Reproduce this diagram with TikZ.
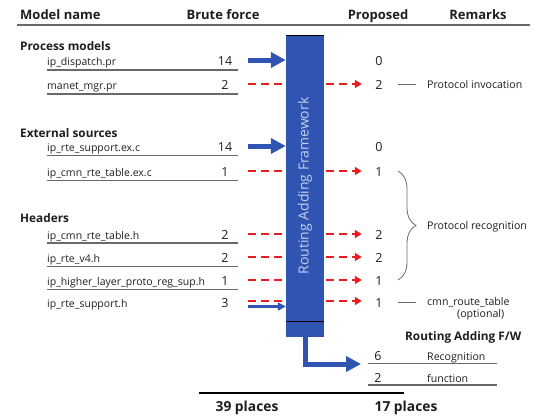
\documentclass[tikz,border=0pt]{standalone}
\usepackage{fontspec}
\setmainfont{Open Sans}
\usepackage{xcolor}
\definecolor{fwblue}{RGB}{47,84,178}
\definecolor{fwred}{RGB}{232,30,30}
\definecolor{lgrey}{RGB}{105,105,105}
\definecolor{fwtext}{RGB}{196,206,234}
\definecolor{ink}{RGB}{30,30,30}
\usetikzlibrary{arrows.meta}
\usetikzlibrary{backgrounds}
\usetikzlibrary{decorations.pathreplacing}
\tikzset{
  colhead/.style={anchor=base, inner sep=0, text=ink, font=\bfseries\fontsize{13}{15}\selectfont},
  total/.style={anchor=base, inner sep=0, text=ink, font=\bfseries\fontsize{13.8}{16}\selectfont},
  group/.style={anchor=base west, inner sep=0, text=ink, font=\bfseries\fontsize{11.8}{14}\selectfont},
  fname/.style={anchor=base west, inner sep=0, text=ink, font=\fontsize{10.5}{12}\selectfont},
  num/.style={anchor=base, inner sep=0, text height=10pt, text depth=0pt, minimum width=14pt, text=ink, font=\fontsize{12.5}{14}\selectfont},
  remark/.style={anchor=base west, inner sep=0, text=ink, font=\fontsize{10.6}{12}\selectfont},
  fwbar/.style={fill=fwblue, inner sep=0, minimum width=38pt, minimum height=301pt},
  fwlabel/.style={rotate=90, inner sep=0, text=fwtext, font=\fontsize{14}{16}\selectfont},
  bigarrow/.style={fwblue, line width=5pt, -{Triangle[length=15pt,width=15pt]}},
  smallarrow/.style={fwblue, line width=3pt, -{Triangle[length=8pt,width=8pt]}},
  redarrow/.style={fwred, line width=2.6pt, dash pattern=on 8pt off 5pt, -{Triangle[length=7pt,width=8pt]}},
  underline/.style={lgrey, line width=1.8pt},
  remline/.style={lgrey, line width=1pt},
  bracestyle/.style={lgrey, line width=0.8pt, decorate, decoration={brace, amplitude=18pt}},
}

\begin{document}
\begin{tikzpicture}[x=1pt,y=-1pt]
\useasboundingbox (0,0) rectangle (536,416);
\node[colhead, anchor=base west] (hname) at (20,19) {Model name};
\node[colhead] (hbrute) at (223,19) {Brute force};
\node[colhead] (hprop) at (378,19) {Proposed};
\node[colhead] (hrem) at (478,19) {Remarks};
\draw[lgrey, line width=1.5pt] (17,25) -- (530,25);

\node[group] (gproc) at (20,50) {Process models};
\node[fname] (f1) at (47,65) {ip\_dispatch.pr};
\node[fname] (f2) at (47,89) {manet\_mgr.pr};
\node[group] (gext) at (20,137) {External sources};
\node[fname] (f3) at (47,151) {ip\_rte\_support.ex.c};
\node[fname] (f4) at (47,176) {ip\_cmn\_rte\_table.ex.c};
\node[group] (ghead) at (20,222) {Headers};
\node[fname] (f5) at (47,239) {ip\_cmn\_rte\_table.h};
\node[fname] (f6) at (47,262) {ip\_rte\_v4.h};
\node[fname] (f7) at (47,285) {ip\_higher\_layer\_proto\_reg\_sup.h};
\node[fname] (f8) at (47,307) {ip\_rte\_support.h};
\foreach \y in {70,94,155.5,180.5,243,266.5,289.5}
  \draw[underline] (47,\y) -- (238,\y);

\node[num] (b1) at (225,65) {14};
\node[num] (b2) at (225,89) {2};
\node[num] (b3) at (225,151) {14};
\node[num] (b4) at (225,176) {1};
\node[num] (b5) at (225,239) {2};
\node[num] (b6) at (225,262) {2};
\node[num] (b7) at (225,285) {1};
\node[num] (b8) at (225,307) {3};

\node[num] (p1) at (379,65) {0};
\node[num] (p2) at (379,89) {2};
\node[num] (p3) at (379,151) {0};
\node[num] (p4) at (379,176) {1};
\node[num] (p5) at (379,239) {2};
\node[num] (p6) at (379,262) {2};
\node[num] (p7) at (379,285) {1};
\node[num] (p8) at (379,307) {1};

\node[fwbar] (bar) at (305,186.5) {};
\node[fwlabel] (barlabel) at (305,186) {Routing Adding Framework};
\draw[black, line width=1pt] (bar.north west) -- (bar.north east);
\draw[black, line width=1pt] ([yshift=16pt]bar.south west) -- ([yshift=16pt]bar.south east);

\begin{scope}[on background layer]
\draw[bigarrow, shorten <=16pt] (b1.east) -- (b1 -| bar.west);
\draw[bigarrow, shorten <=16pt] (b3.east) -- (b3 -| bar.west);
\draw[redarrow, shorten <=16pt, shorten >=10pt] (b2.east) -- (p2.west);
\draw[redarrow, shorten <=16pt, shorten >=10pt] (b4.east) -- (p4.west);
\draw[redarrow, shorten <=16pt, shorten >=10pt] (b5.east) -- (p5.west);
\draw[redarrow, shorten <=16pt, shorten >=10pt] (b6.east) -- (p6.west);
\draw[redarrow, shorten <=16pt, shorten >=10pt] (b7.east) -- (p7.west);
\draw[redarrow, shorten <=16pt, shorten >=10pt] ([yshift=1pt]b8.east) -- ([yshift=1pt]p8.west);
\coordinate (s8) at ([yshift=-4.5pt]b8.east);
\draw[smallarrow, shorten <=16pt] (s8) -- (s8 -| bar.west);
\end{scope}

\node[remark] (r1) at (427,88) {Protocol invocation};
\draw[remline, shorten <=12pt, shorten >=11pt] (p2.east) -- (p2.east -| r1.west);
\draw[bracestyle] ([xshift=19pt]p4.center) -- ([xshift=19pt]p7.center);
\node[remark] (r2) at (427,229) {Protocol recognition};
\node[remark] (r3) at (427,305) {cmn\_route\_table};
\node[remark] (r3b) at (457,317) {(optional)};
\draw[remline, shorten <=12pt, shorten >=11pt] (p8.east) -- (p8.east -| r3.west);

\node[group] (fwhead) at (405,340) {Routing Adding F/W};
\node[num] (q1) at (378,360) {6};
\node[remark] (q1t) at (427,360) {Recognition};
\node[num] (q2) at (378,382) {2};
\node[remark] (q2t) at (427,382) {function};
\draw[underline] (368,363.5) -- (497,363.5);
\draw[underline] (368,385) -- (497,385);
\coordinate (fwin) at (361,364);
\draw[bigarrow] (bar.south) |- (fwin);

\draw[black, line width=1.5pt] (199,393) -- (404,393);
\node[total] (t1) at (247,411) {39 places};
\node[total] (t2) at (406,411) {17 places};
\end{tikzpicture}
\end{document}
